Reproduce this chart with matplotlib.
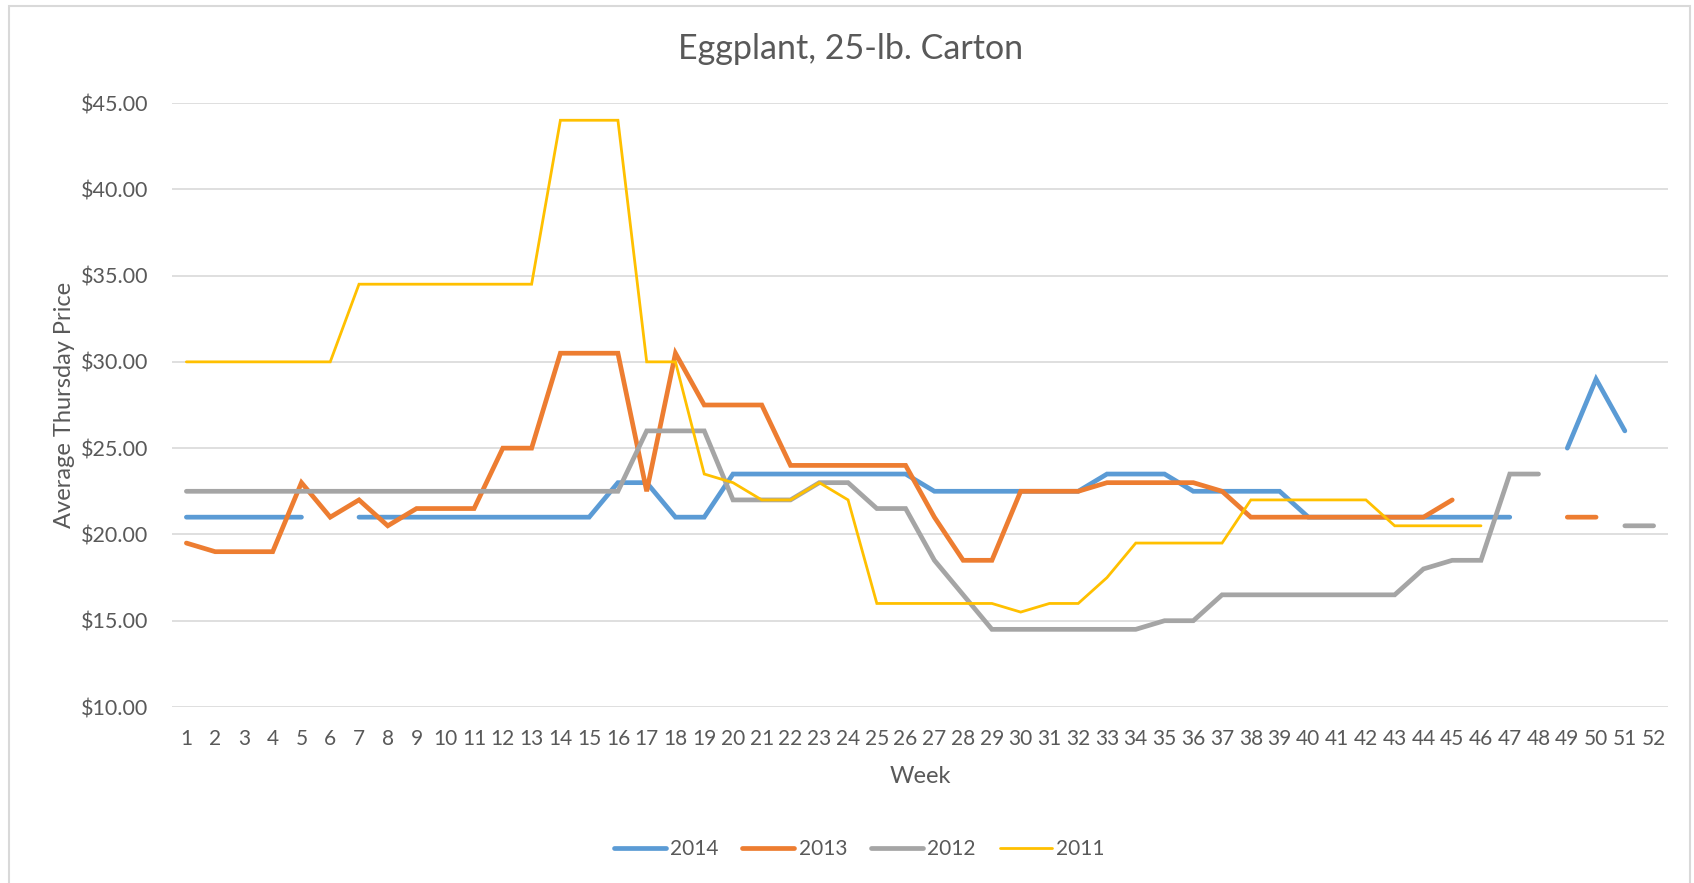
import numpy as np
import matplotlib
matplotlib.use("Agg")
import matplotlib.pyplot as plt
from matplotlib.patches import Rectangle
from matplotlib.ticker import FuncFormatter

plt.rcParams['font.family'] = ['Lato', 'DejaVu Sans']

# data (weekly average thursday price, None = no report)
weeks = list(range(1, 53))
nan = None

p2014 = [21, 21, 21, 21, 21, nan, 21, 21, 21, 21, 21, 21, 21, 21, 21, 23, 23, 21, 21,
         23.5, 23.5, 23.5, 23.5, 23.5, 23.5, 23.5, 22.5, 22.5, 22.5, 22.5, 22.5, 22.5,
         23.5, 23.5, 23.5, 22.5, 22.5, 22.5, 22.5, 21, 21, 21, 21, 21, 21, 21, 21,
         nan, 25, 29, 26, nan]
p2013 = [19.5, 19, 19, 19, 23, 21, 22, 20.5, 21.5, 21.5, 21.5, 25, 25, 30.5, 30.5, 30.5,
         22.5, 30.5, 27.5, 27.5, 27.5, 24, 24, 24, 24, 24, 21, 18.5, 18.5, 22.5, 22.5, 22.5,
         23, 23, 23, 23, 22.5, 21, 21, 21, 21, 21, 21, 21, 22, nan, nan, nan, 21, 21, nan, nan]
p2012 = [22.5] * 16 + [26, 26, 26, 22, 22, 22, 23, 23, 21.5, 21.5, 18.5, 16.5,
                       14.5, 14.5, 14.5, 14.5, 14.5, 14.5, 15, 15,
                       16.5, 16.5, 16.5, 16.5, 16.5, 16.5, 16.5, 18, 18.5, 18.5,
                       23.5, 23.5, nan, nan, 20.5, 20.5]
p2011 = [30, 30, 30, 30, 30, 30, 34.5, 34.5, 34.5, 34.5, 34.5, 34.5, 34.5, 44, 44, 44,
         30, 30, 23.5, 23, 22, 22, 23, 22, 16, 16, 16, 16, 16, 15.5, 16, 16, 17.5,
         19.5, 19.5, 19.5, 19.5, 22, 22, 22, 22, 22, 20.5, 20.5, 20.5, 20.5,
         nan, nan, nan, nan, nan, nan]

series = [("2014", p2014, "#5B9BD5", 3.4),
          ("2013", p2013, "#ED7D31", 3.4),
          ("2012", p2012, "#A5A5A5", 3.4),
          ("2011", p2011, "#FFC000", 2.0)]

text_color = "#595959"

fig = plt.figure(figsize=(16.94, 8.83), dpi=100)
ax = fig.add_axes([172 / 1694, 1 - 707 / 883, 1496 / 1694, 604 / 883])

for name, vals, color, lw in series:
    y = np.array([np.nan if v is None else v for v in vals], dtype=float)
    ax.plot(weeks, y, color=color, lw=lw, label=name,
            solid_capstyle='round', solid_joinstyle='miter')

ax.set_xlim(0.5, 52.5)
ax.set_ylim(10, 45)
ax.set_xticks(weeks)
ax.set_yticks(np.arange(10, 46, 5))
ax.yaxis.set_major_formatter(FuncFormatter(lambda v, p: "${:.2f}".format(v)))
ax.tick_params(length=0, labelsize=15, colors=text_color)
ax.tick_params(axis='y', labelsize=15.5, pad=17)
ax.tick_params(axis='x', pad=16)
ax.grid(axis='y', color="#D9D9D9", lw=1.2)
ax.set_axisbelow(True)
for s in ax.spines.values():
    s.set_visible(False)

ax.set_xlabel("Week", fontsize=17, color=text_color)
ax.xaxis.set_label_coords(0.5, -0.098)
ax.set_ylabel("Average Thursday Price", fontsize=17, color=text_color)
ax.yaxis.set_label_coords(-0.065, 0.5)

fig.text(851 / 1694, 1 - 49 / 883, "Eggplant, 25-lb. Carton", ha='center', va='center',
         fontsize=24.5, color=text_color)

leg = fig.legend(ncol=4, loc='center', bbox_to_anchor=(859 / 1694, 1 - 849 / 883),
                 frameon=False, fontsize=15, handlelength=2.5, handletextpad=0.2,
                 columnspacing=1.15)
for t in leg.get_texts():
    t.set_color(text_color)

# chart border
fig.patches.append(Rectangle((9 / 1694, -0.05), 1681 / 1694, 1.05 - 6 / 883,
                             transform=fig.transFigure, fill=False,
                             edgecolor="#D9D9D9", lw=1.5))

fig.savefig("out.png", dpi=100)
